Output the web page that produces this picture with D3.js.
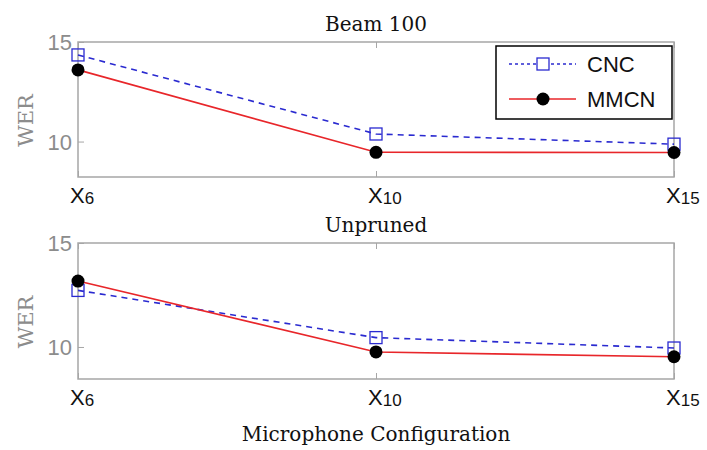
<!DOCTYPE html>
<html>
<head>
<meta charset="utf-8">
<script src="https://cdn.jsdelivr.net/npm/d3@7"></script>
<style>
  body { margin: 0; background: #fff; }
  svg { display: block; }
</style>
</head>
<body>
<svg id="canvas"></svg>
<script>
const configs = ['6', '10', '15'];
const seriesNames = ['CNC', 'MMCN'];

const beamCNC = [14.35, 10.38, 9.87];
const beamMMCN = [13.6, 9.46, 9.45];
const unprunedCNC = [12.72, 10.45, 9.95];
const unprunedMMCN = [13.17, 9.76, 9.53];

const yTicks = [10, 15];

const width = 707, height = 450;
const left = 78, right = 674;
const serif = 'DejaVu Serif, serif';
const sans = 'Liberation Sans, Arial, sans-serif';

let canvas = d3.select('#canvas')
  .attr('width', width)
  .attr('height', height);

let x = d3.scalePoint()
  .domain(configs)
  .range([left, right]);

let drawPanel = (title, top, bottom, yMin, cnc, mmcn, showLegend) => {
  let y = d3.scaleLinear()
    .domain([yMin, 15])
    .range([bottom, top]);

  let g = canvas.append('g');

  g.append('rect')
    .attr('x', left)
    .attr('y', top)
    .attr('width', right - left)
    .attr('height', bottom - top)
    .attr('fill', 'none')
    .attr('stroke', '#a6a6a6')
    .attr('stroke-width', 1.5);

  // inward ticks
  g.append('g')
    .attr('transform', `translate(${left},0)`)
    .call(d3.axisRight(y).tickValues(yTicks).tickSize(6).tickFormat(''))
    .call(a => a.select('.domain').remove())
    .call(a => a.selectAll('line').attr('stroke', '#a6a6a6'));

  g.append('g')
    .attr('transform', `translate(0,${bottom})`)
    .call(d3.axisTop(x).tickSize(6).tickFormat(''))
    .call(a => a.select('.domain').remove())
    .call(a => a.selectAll('line').attr('stroke', '#a6a6a6'));

  g.append('g')
    .attr('transform', `translate(0,${top})`)
    .call(d3.axisBottom(x).tickSize(6).tickFormat(''))
    .call(a => a.select('.domain').remove())
    .call(a => a.selectAll('line').attr('stroke', '#a6a6a6'));

  // y tick labels
  g.selectAll('.ylab')
    .data(yTicks)
    .enter()
    .append('text')
    .attr('x', left - 6)
    .attr('y', d => y(d) + 8)
    .attr('text-anchor', 'end')
    .attr('font-family', sans)
    .attr('font-size', 22)
    .attr('fill', '#8c8c8c')
    .text(d => d);

  // x tick labels with subscript
  let xl = g.selectAll('.xlab')
    .data(configs)
    .enter()
    .append('text')
    .attr('x', d => x(d) - 8)
    .attr('y', bottom + 26)
    .attr('font-family', sans)
    .attr('font-size', 22)
    .attr('fill', '#111');
  xl.append('tspan').text('X');
  xl.append('tspan').attr('font-size', 17).attr('dy', 1).text(d => d);

  g.append('text')
    .attr('transform', `translate(33,${(top + bottom) / 2 + 11}) rotate(-90)`)
    .attr('text-anchor', 'middle')
    .attr('font-family', serif)
    .attr('font-size', 21)
    .attr('fill', '#8c8c8c')
    .text('WER');

  g.append('text')
    .attr('x', (left + right) / 2)
    .attr('y', top - 11)
    .attr('text-anchor', 'middle')
    .attr('font-family', serif)
    .attr('font-size', 20)
    .attr('fill', '#111')
    .text(title);

  let line = d3.line()
    .x((d, i) => x(configs[i]))
    .y(d => y(d));

  g.append('path')
    .datum(cnc)
    .attr('d', line)
    .attr('fill', 'none')
    .attr('stroke', '#2a2ad0')
    .attr('stroke-width', 1.6)
    .attr('stroke-dasharray', '6,5');

  g.append('path')
    .datum(mmcn)
    .attr('d', line)
    .attr('fill', 'none')
    .attr('stroke', '#e8262a')
    .attr('stroke-width', 1.6);

  g.selectAll('.sq')
    .data(cnc)
    .enter()
    .append('rect')
    .attr('x', (d, i) => x(configs[i]) - 6)
    .attr('y', d => y(d) - 6)
    .attr('width', 12)
    .attr('height', 12)
    .attr('fill', 'none')
    .attr('stroke', '#2a2ad0')
    .attr('stroke-width', 1.3);

  g.selectAll('.dot')
    .data(mmcn)
    .enter()
    .append('circle')
    .attr('cx', (d, i) => x(configs[i]))
    .attr('cy', d => y(d))
    .attr('r', 6.5)
    .attr('fill', '#000');

  if (showLegend) {
    let lg = g.append('g');
    lg.append('rect')
      .attr('x', 496)
      .attr('y', 46)
      .attr('width', 176)
      .attr('height', 73)
      .attr('fill', '#fff')
      .attr('stroke', '#000')
      .attr('stroke-width', 1.5);

    seriesNames.forEach((name, i) => {
      let ly = 64 + i * 35;
      lg.append('line')
        .attr('x1', 509).attr('x2', 576)
        .attr('y1', ly).attr('y2', ly)
        .attr('stroke', i === 0 ? '#2a2ad0' : '#e8262a')
        .attr('stroke-width', 1.4)
        .attr('stroke-dasharray', i === 0 ? '3,3' : null);
      if (i === 0) {
        lg.append('rect')
          .attr('x', 537).attr('y', ly - 6)
          .attr('width', 12).attr('height', 12)
          .attr('fill', '#fff')
          .attr('stroke', '#2a2ad0')
          .attr('stroke-width', 1.3);
      } else {
        lg.append('circle')
          .attr('cx', 543).attr('cy', ly)
          .attr('r', 6.5)
          .attr('fill', '#000');
      }
      lg.append('text')
        .attr('x', 587)
        .attr('y', ly + 8)
        .attr('font-family', sans)
        .attr('font-size', 22)
        .attr('fill', '#111')
        .text(name);
    });
  }
};

drawPanel('Beam 100', 42, 177, 8.22, beamCNC, beamMMCN, true);
drawPanel('Unpruned', 243, 379, 8.46, unprunedCNC, unprunedMMCN, false);

canvas.append('text')
  .attr('x', (left + right) / 2)
  .attr('y', 441)
  .attr('text-anchor', 'middle')
  .attr('font-family', serif)
  .attr('font-size', 20)
  .attr('fill', '#111')
  .text('Microphone Configuration');
</script>
</body>
</html>
